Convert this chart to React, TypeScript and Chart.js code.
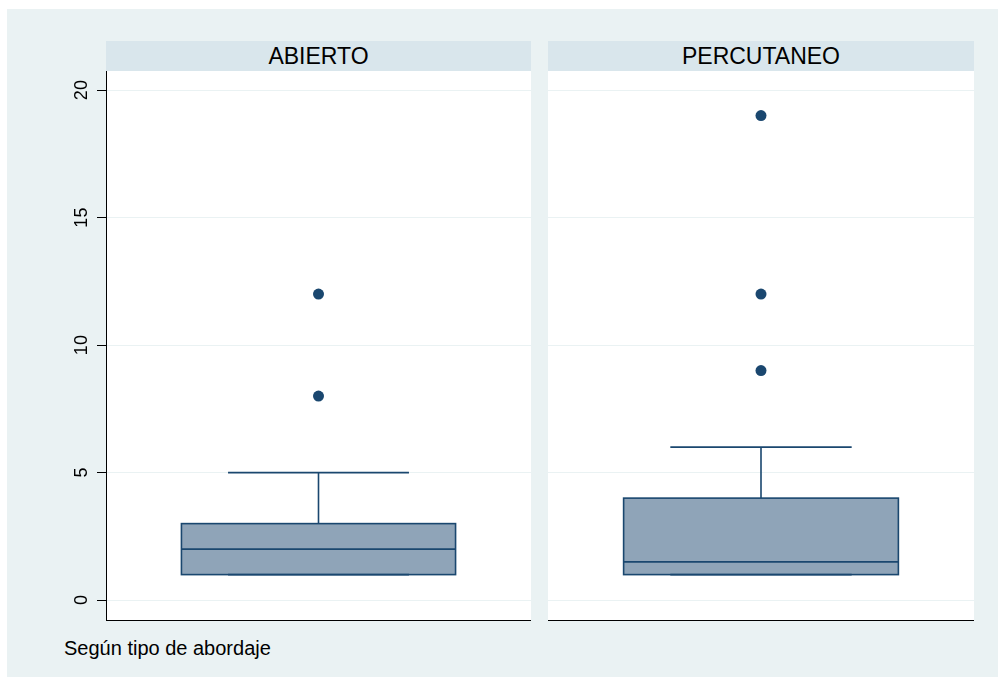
import React, { useEffect, useRef } from 'react';
import { Chart, registerables } from 'chart.js';

Chart.register(...registerables);

// ---- data ----
const groups = ['ABIERTO', 'PERCUTANEO'];
const lowerWhisker = [1, 1];
const q1 = [1, 1];
const median = [2, 1.5];
const q3 = [3, 4];
const upperWhisker = [5, 6];
const outliers = [[8, 12], [9, 12, 19]];
const yTicks = [0, 5, 10, 15, 20];
const yMin = -0.78;
const yMax = 20.75;
const xNote = 'Según tipo de abordaje';

// ---- styles ----
const NAVY = '#1a476f';
const FILL = '#8fa4b8';
const BG = '#eaf2f3';
const STRIP = '#d9e6ec';
const GRID = '#eaf2f3';
const FONT = "'Liberation Sans', Arial, Helvetica, sans-serif";

const PANEL_TOP = 71;
const PANEL_H = 551;

function Panel({ index, left, width, showAxis }: { index: number; left: number; width: number; showAxis: boolean }) {
  const ref = useRef<HTMLCanvasElement | null>(null);

  useEffect(() => {
    const canvas = ref.current;
    if (!canvas) return;

    const boxPlugin = {
      id: 'boxParts',
      beforeDraw(chart: any) {
        const { ctx, chartArea: a } = chart;
        ctx.save();
        ctx.fillStyle = '#ffffff';
        ctx.fillRect(a.left, a.top, a.right - a.left, a.bottom - a.top);
        ctx.restore();
      },
      afterDatasetsDraw(chart: any) {
        const { ctx } = chart;
        const ys = chart.scales.y;
        const bar = chart.getDatasetMeta(0).data[0] as any;
        const cx = bar.x;
        const half = bar.width / 2;
        const capHalf = half * 0.66;
        const yq1 = ys.getPixelForValue(q1[index]);
        const yq3 = ys.getPixelForValue(q3[index]);
        const ymed = ys.getPixelForValue(median[index]);
        const yhi = ys.getPixelForValue(upperWhisker[index]);
        const ylo = ys.getPixelForValue(lowerWhisker[index]);
        ctx.save();
        ctx.strokeStyle = NAVY;
        ctx.lineWidth = 1.6;
        // whiskers
        ctx.beginPath();
        ctx.moveTo(cx, yq3);
        ctx.lineTo(cx, yhi);
        ctx.moveTo(cx - capHalf, yhi);
        ctx.lineTo(cx + capHalf, yhi);
        ctx.moveTo(cx, yq1);
        ctx.lineTo(cx, ylo);
        ctx.moveTo(cx - capHalf, ylo);
        ctx.lineTo(cx + capHalf, ylo);
        ctx.stroke();
        // box outline
        ctx.strokeRect(cx - half, yq3, half * 2, yq1 - yq3);
        // median
        ctx.beginPath();
        ctx.moveTo(cx - half, ymed);
        ctx.lineTo(cx + half, ymed);
        ctx.stroke();
        ctx.restore();
      },
      afterDraw(chart: any) {
        if (!showAxis) return;
        const { ctx, chartArea: a } = chart;
        const ys = chart.scales.y;
        ctx.save();
        ctx.font = `18px ${FONT}`;
        ctx.fillStyle = '#000';
        ctx.textAlign = 'center';
        ctx.textBaseline = 'alphabetic';
        yTicks.forEach((v) => {
          const y = ys.getPixelForValue(v);
          ctx.save();
          ctx.translate(a.left - 19, y);
          ctx.rotate(-Math.PI / 2);
          ctx.fillText(String(v), 0, 0);
          ctx.restore();
        });
        ctx.restore();
      },
    };

    const chart = new Chart(canvas, {
      type: 'bar',
      data: {
        labels: [groups[index]],
        datasets: [
          {
            type: 'bar',
            data: [[q1[index], q3[index]]] as any,
            backgroundColor: FILL,
            borderWidth: 0,
            barPercentage: 0.645,
            categoryPercentage: 1,
            order: 2,
          } as any,
          {
            type: 'line',
            data: outliers[index].map((v) => ({ x: groups[index], y: v })) as any,
            showLine: false,
            pointRadius: 5.5,
            pointHoverRadius: 5.5,
            pointBackgroundColor: NAVY,
            pointBorderColor: NAVY,
            pointBorderWidth: 0,
            order: 1,
          } as any,
        ],
      },
      options: {
        responsive: false,
        animation: false,
        devicePixelRatio: 1,
        events: [],
        layout: { autoPadding: false, padding: { top: 0, bottom: 2, left: 0, right: 0 } },
        plugins: {
          legend: { display: false },
          tooltip: { enabled: false },
          title: { display: false },
        },
        scales: {
          x: {
            type: 'category',
            offset: true,
            grid: { display: false, drawTicks: false },
            ticks: { display: false },
            border: { display: true, color: '#000', width: 1 },
            afterFit: (s: any) => {
              s.height = 0;
            },
          },
          y: {
            type: 'linear',
            min: yMin,
            max: yMax,
            afterBuildTicks: (s: any) => {
              s.ticks = yTicks.map((v) => ({ value: v }));
            },
            grid: { color: GRID, lineWidth: 1, drawTicks: showAxis, tickLength: 9, tickColor: '#000', tickWidth: 1 },
            ticks: { display: false },
            border: { display: showAxis, color: '#000', width: 1 },
            afterFit: (s: any) => {
              s.width = showAxis ? 66 : 0;
            },
          },
        },
      } as any,
      plugins: [boxPlugin],
    });

    return () => chart.destroy();
  }, [index, showAxis]);

  return (
    <canvas
      ref={ref}
      width={width}
      height={PANEL_H}
      style={{ position: 'absolute', left, top: PANEL_TOP, width, height: PANEL_H, display: 'block' }}
    />
  );
}

export default function App() {
  useEffect(() => {
    document.body.style.margin = '0';
  }, []);

  const strips = [
    { left: 106, width: 425 },
    { left: 548, width: 426 },
  ];

  return (
    <div
      style={{
        position: 'absolute',
        left: 0,
        top: 0,
        width: 998,
        height: 677,
        background: '#ffffff',
        overflow: 'hidden',
        fontFamily: FONT,
      }}
    >
      <div style={{ position: 'absolute', left: 7, top: 9, width: 991, height: 668, background: BG }} />
      {strips.map((s, i) => (
        <div
          key={groups[i]}
          style={{
            position: 'absolute',
            left: s.left,
            top: 41,
            width: s.width,
            height: 30,
            background: STRIP,
            color: '#000',
            fontSize: 23,
            lineHeight: '30px',
            textAlign: 'center',
            whiteSpace: 'nowrap',
          }}
        >
          {groups[i]}
        </div>
      ))}
      <Panel index={0} left={40} width={491} showAxis={true} />
      <Panel index={1} left={548} width={426} showAxis={false} />
      <div
        style={{
          position: 'absolute',
          left: 64,
          top: 638,
          fontSize: 20,
          lineHeight: '20px',
          color: '#000',
          whiteSpace: 'nowrap',
        }}
      >
        {xNote}
      </div>
    </div>
  );
}
